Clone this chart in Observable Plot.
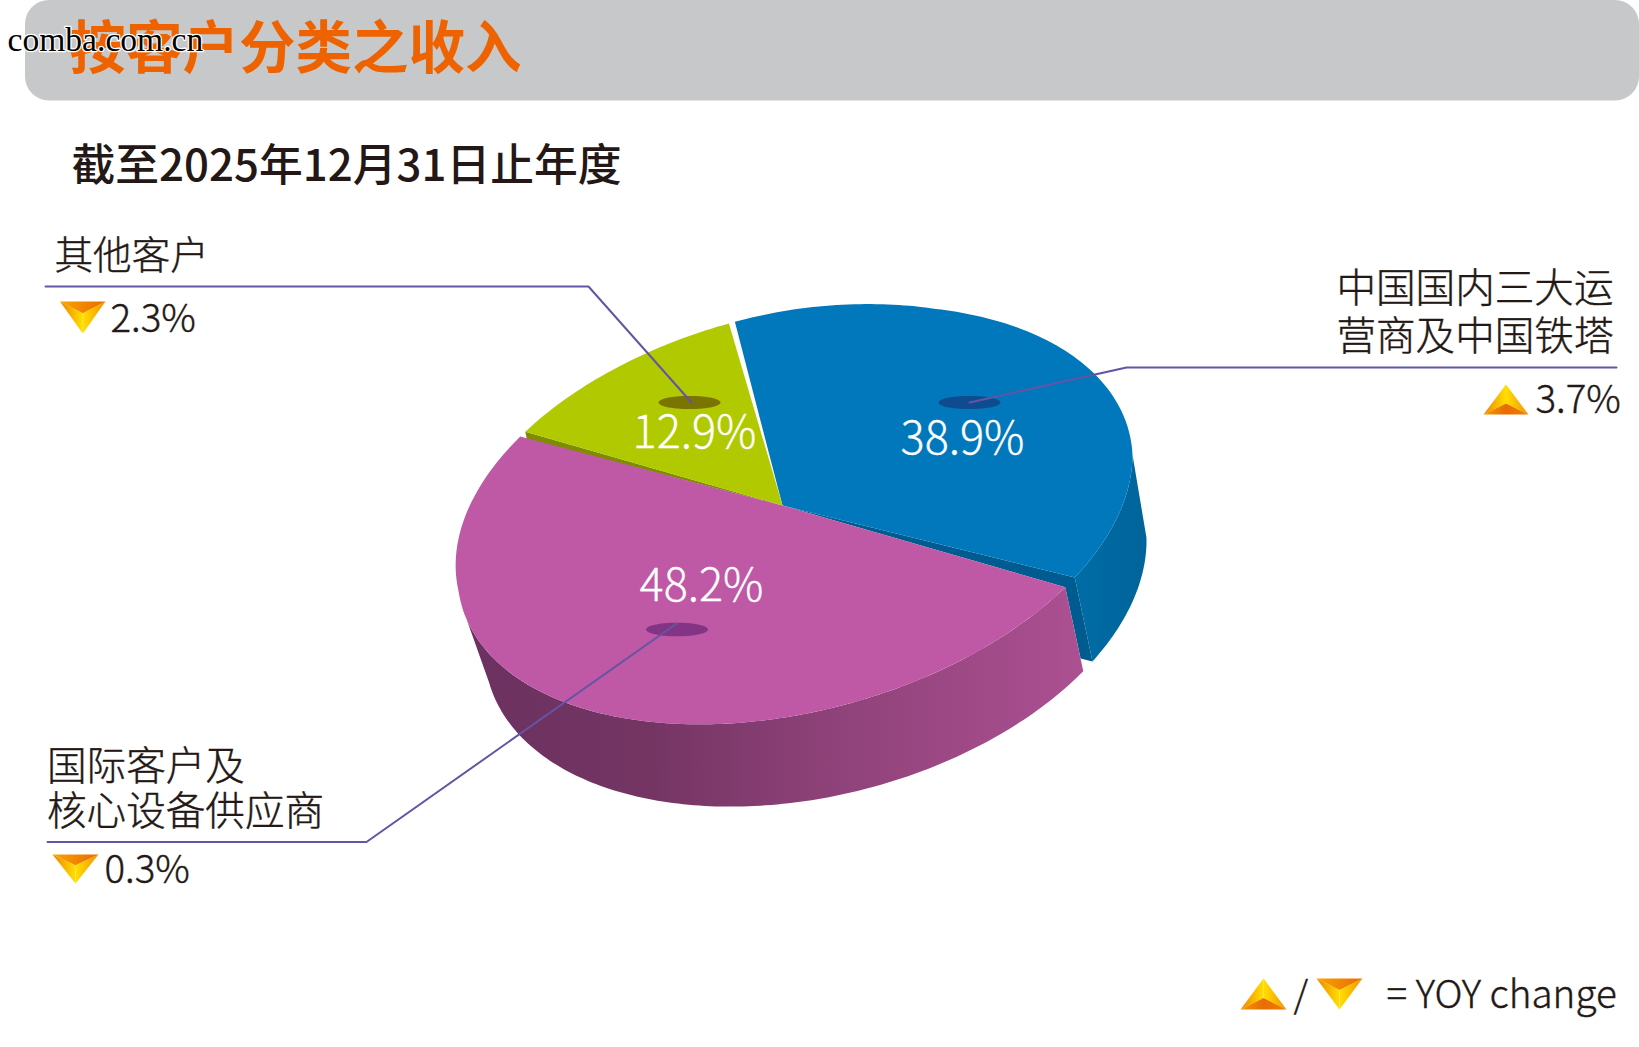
<!DOCTYPE html>
<html lang="zh-CN">
<head>
<meta charset="utf-8">
<title>按客户分类之收入</title>
<script src="https://cdn.jsdelivr.net/npm/d3@7"></script>
<script src="https://cdn.jsdelivr.net/npm/@observablehq/plot@0.6"></script>
<style>
  html, body { margin: 0; padding: 0; background: #fff; }
  svg { display: block; }
</style>
</head>
<body>
<div id="chart"></div>
<script>
// ---- values ----
const categories = ["中国国内三大运\n营商及中国铁塔", "国际客户及\n核心设备供应商", "其他客户"];
const shares = [38.9, 48.2, 12.9];
const yoyChange = [3.7, 0.3, 2.3];
const yoyDirection = ["up", "down", "down"];
// Rim angles of each slice as actually drawn in the source picture (degrees round the tilted ellipse).
const drawnStart = [-100, 36.8, 219];
const drawnEnd = [34, 217.6, 259];
const titleText = "按客户分类之收入";
const subtitleText = "截至2025年12月31日止年度";
const legendText = "= YOY change";
const watermarkText = "comba.com.cn";

// ---- styling ----
const W = 1639, H = 1047;
const CJK = "'Noto Sans CJK SC','Noto Sans',sans-serif";
const ink = "#231815";
const leader = "#6355a4";

// ---- projection of the 3D disc ----
const rad = d => d * Math.PI / 180;
const apex = {x: 782, y: 505};
const norm = t => ((t % 360) + 360) % 360;
// The drawn rim bulges a little up-left and flattens a little up-right of a pure ellipse.
const rimScale = t => {
  const n = norm(t);
  const upLeft = Math.abs(n - 235) < 60 ? Math.cos(rad(1.5 * (n - 235))) : 0;
  const upRight = Math.abs(n - 315) < 45 ? Math.cos(rad(2 * (n - 315))) : 0;
  return 1 + 0.03 * upLeft - 0.015 * upRight;
};
const top3d = t => {
  const r = rimScale(t);
  return {
    x: 794.4 + r * 337.6 * Math.cos(rad(t)),
    y: 513.8 + r * (-59.6 * Math.cos(rad(t)) + 201.4 * Math.sin(rad(t)))
  };
};
const bottom3d = t => ({
  x: 815 + 331 * Math.cos(rad(t - 0.8)),
  y: 594.4 - 54.4 * Math.cos(rad(t - 0.8)) + 204.6 * Math.sin(rad(t - 0.8))
});
const arc = (fn, a, b) => {
  const n = Math.max(2, Math.ceil(Math.abs(b - a)));
  return d3.range(n + 1).map(i => fn(a + (b - a) * i / n));
};
const sector = i => [apex, ...arc(top3d, drawnStart[i], drawnEnd[i])];
const side = (a, b) => [...arc(top3d, a, b), ...arc(bottom3d, b, a)];
const lerp = (p, q, k) => ({x: p.x + (q.x - p.x) * k, y: p.y + (q.y - p.y) * k});
const oval = (cx, cy, rx, ry) => d3.range(60).map(i => ({
  x: cx + rx * Math.cos(i / 60 * 2 * Math.PI),
  y: cy + ry * Math.sin(i / 60 * 2 * Math.PI)
}));

const poly = (pts, fill) => Plot.line(pts, {x: "x", y: "y", fill, stroke: "none", curve: "linear-closed"});
const path = (pts, extra = {}) => Plot.line(pts, {x: "x", y: "y", stroke: leader, strokeWidth: 2, ...extra});
const label = (text, x, y, o = {}) => Plot.text([text], {
  x: () => x, y: () => y, text: d => d, textAnchor: "start", lineAnchor: "bottom",
  fontSize: 39.6, fill: ink, stroke: ink, strokeWidth: 0.4, fontFamily: CJK, fontWeight: 300, ...o
});
const white = {fontSize: 45, fill: "#fff", stroke: "#fff", strokeWidth: 0.3, textAnchor: "middle"};

// Faceted up / down triangle
function triangle(dir, x0, x1, y0, y1) {
  const cx = (x0 + x1) / 2, h = y1 - y0;
  if (dir === "up") {
    const A = {x: cx, y: y0}, L = {x: x0, y: y1}, R = {x: x1, y: y1}, I = {x: cx, y: y1 - h * 0.37};
    return [poly([A, L, I], "url(#triL)"), poly([A, I, R], "url(#triR)"), poly([L, I, R], "url(#triB)")];
  }
  const B = {x: cx, y: y1}, L = {x: x0, y: y0}, R = {x: x1, y: y0}, I = {x: cx, y: y0 + h * 0.37};
  return [poly([L, I, B], "url(#triL)"), poly([R, I, B], "url(#triR)"), poly([L, R, I], "url(#triT)")];
}

const blue = 0, purple = 1, green = 2;
const pct = v => v.toFixed(1) + "%";

const marks = [
  // header band
  Plot.rect([{x1: 25, x2: W, y1: 0, y2: 100.5}], {x1: "x1", x2: "x2", y1: "y1", y2: "y2", rx: 24, fill: "#c7c8ca"}),
  label(titleText, 69, 67.5, {fontSize: 56.5, fontWeight: 700, fill: "#ee6300", stroke: "none"}),
  label(watermarkText, 7, 50, {fontSize: 33.6, fontWeight: 400, fontFamily: "'Liberation Serif',serif", fill: "#000", stroke: "#fff", strokeWidth: 2.5}),
  label(subtitleText, 71, 180, {fontSize: 43.8, fontWeight: 500, stroke: "none"}),

  // blue: outer side + inner wall
  poly(side(0, drawnEnd[blue]), "url(#blueSide)"),
  poly([apex, top3d(drawnEnd[blue]), bottom3d(drawnEnd[blue]),
        lerp(top3d(drawnStart[purple]), bottom3d(drawnStart[purple]), 0.85), top3d(drawnStart[purple])], "#005c90"),
  // purple: outer side
  poly(side(drawnStart[purple], 171), "url(#purpleSide)"),
  // green wall
  poly([apex, top3d(drawnStart[green]), {x: top3d(drawnStart[green]).x + 1.5, y: top3d(drawnStart[green]).y + 7.5}], "#7f8b00"),
  // tops
  poly(sector(blue), "#0078bb"),
  poly(sector(purple), "#bf58a5"),
  poly(sector(green), "#b0c900"),

  // ovals where the leaders end
  poly(oval(689, 402, 31, 6.6), "#7a7500"),
  poly(oval(969, 402, 31, 6.6), "#0f4c8f"),
  poly(oval(676.5, 629, 31, 6.8), "#823585"),

  // leaders
  path([{x: 45, y: 286}, {x: 588, y: 286}, {x: 691, y: 402}]),
  path([{x: 1616, y: 367}, {x: 1126, y: 367}, {x: 969, y: 402}]),
  path([{x: 47, y: 841.5}, {x: 366, y: 841.5}, {x: 676.5, y: 622.7}]),

  // slice values
  label(pct(shares[blue]), 962, 453, white),
  label(pct(shares[purple]), 701, 600, white),
  label(pct(shares[green]), 694, 447, white),

  // category labels
  label(categories[blue], 1613, 349, {textAnchor: "end", lineHeight: 1.212}),
  label(categories[purple], 46.5, 824, {lineHeight: 1.136}),
  label(categories[green], 54, 268, {fontSize: 38.6}),

  // yoy
  ...triangle(yoyDirection[blue], 1483, 1528, 384, 414),
  label(pct(yoyChange[blue]), 1535, 412, {fontSize: 38.5}),
  ...triangle(yoyDirection[purple], 52, 98, 854, 883),
  label(pct(yoyChange[purple]), 104, 882, {fontSize: 38.5}),
  ...triangle(yoyDirection[green], 59.5, 105, 301, 333),
  label(pct(yoyChange[green]), 110, 331, {fontSize: 38.5}),

  // key
  ...triangle("up", 1240, 1286, 978, 1009),
  label("/", 1293, 1007, {fontSize: 37}),
  ...triangle("down", 1316, 1362, 978, 1009),
  label(legendText, 1386, 1007, {fontSize: 38.6})
];

const chart = Plot.plot({
  width: W, height: H, margin: 0,
  x: {domain: [0, W], range: [0, W], axis: null},
  y: {domain: [0, H], range: [0, H], axis: null},
  style: {background: "#fff", fontFamily: CJK},
  marks
});

// gradients referenced by the fills above
const stops = (id, list) => `<linearGradient id="${id}" x1="${list.x1 ?? 0}" y1="${list.y1 ?? 0}" x2="${list.x2 ?? 1}" y2="${list.y2 ?? 0}">` +
  list.s.map(([o, c]) => `<stop offset="${o}" stop-color="${c}"/>`).join("") + `</linearGradient>`;
const defs = document.createElementNS("http://www.w3.org/2000/svg", "defs");
defs.innerHTML =
  stops("purpleSide", {s: [[0, "#6b3160"], [0.3, "#743563"], [0.6, "#8f4279"], [1, "#ac5092"]]}) +
  stops("blueSide", {s: [[0, "#006ca6"], [1, "#00649a"]]}) +
  stops("triL", {s: [[0, "#ef8200"], [1, "#ffe000"]]}) +
  stops("triR", {s: [[0, "#ffe000"], [1, "#f39200"]]}) +
  stops("triB", {s: [[0, "#f39800"], [0.5, "#e96c00"], [1, "#f08000"]]}) +
  stops("triT", {s: [[0, "#f8a500"], [1, "#e96a00"]]});
chart.prepend(defs);
document.getElementById("chart").append(chart);
</script>
</body>
</html>
